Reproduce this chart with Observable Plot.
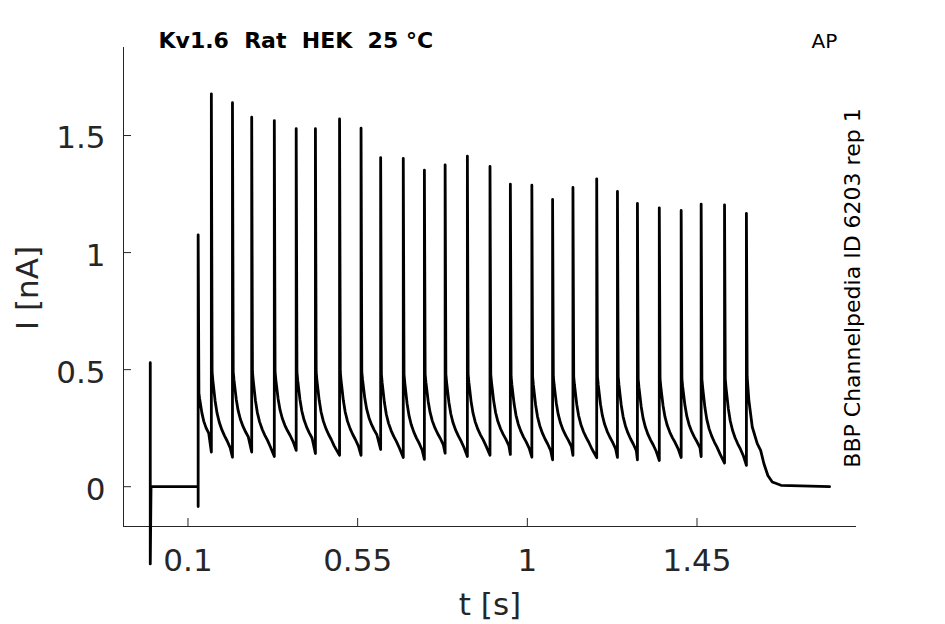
<!DOCTYPE html>
<html>
<head>
<meta charset="utf-8">
<script src="https://cdn.jsdelivr.net/npm/d3@7"></script>
<script src="https://cdn.jsdelivr.net/npm/@observablehq/plot@0.6"></script>
<style>
  html, body { margin: 0; padding: 0; background: white; }
</style>
</head>
<body>
<div id="chart"></div>
<script>
// ---- data ----
const titleText = "Kv1.6  Rat  HEK  25 °C";
const protocolText = "AP";
const sideText = "BBP Channelpedia ID 6203 rep 1";
const xLabel = "t [s]";
const yLabel = "I [nA]";

const xTicks = [0.1, 0.55, 1, 1.45];
const yTicks = [0, 0.5, 1, 1.5];
const xDomain = [-0.071, 1.873];
const yDomain = [-0.17, 1.876];

// start of the trace: capacitive artefact, baseline, step onset
const preT = [0.000, 0.000, 0.002, 0.127, 0.127];
const preI = [0.53, -0.33, 0.0, 0.0, -0.085];

// spike onsets (s), spike peaks (nA), current just before the next spike (nA)
const spikeT = [0.127, 0.162, 0.218, 0.269, 0.329, 0.387, 0.438, 0.502, 0.559, 0.611,
                0.671, 0.727, 0.782, 0.841, 0.901, 0.955, 1.012, 1.067, 1.121, 1.184,
                1.239, 1.292, 1.350, 1.408, 1.461, 1.523, 1.581];
const spikePeak = [1.076, 1.678, 1.640, 1.578, 1.564, 1.529, 1.529, 1.571, 1.531, 1.406,
                   1.402, 1.352, 1.375, 1.412, 1.368, 1.292, 1.288, 1.227, 1.278, 1.315,
                   1.261, 1.210, 1.191, 1.180, 1.207, 1.204, 1.167];
const troughI = [0.148, 0.126, 0.148, 0.129, 0.155, 0.142, 0.134, 0.134, 0.159, 0.125,
                 0.117, 0.143, 0.129, 0.134, 0.138, 0.126, 0.115, 0.134, 0.124, 0.125,
                 0.115, 0.112, 0.125, 0.129, 0.101, 0.091];
// current ~2 ms after each spike (start of the slow decay)
const shoulderI = [0.40, 0.49, 0.49, 0.49, 0.49, 0.49, 0.49, 0.49, 0.49, 0.48,
                   0.48, 0.48, 0.48, 0.48, 0.48, 0.47, 0.47, 0.47, 0.47, 0.47,
                   0.47, 0.46, 0.46, 0.46, 0.46, 0.46];
const decayMs = [2, 4, 6, 10, 15, 21, 28, 35, 42, 50];
const decayFrac = [1, 0.9, 0.82, 0.66, 0.52, 0.41, 0.32, 0.25, 0.19, 0.11];

// tail after the last spike
const tailT = [1.583, 1.5875, 1.5966, 1.6098, 1.6188, 1.6275, 1.6379, 1.6496, 1.6727, 1.8016];
const tailI = [0.47, 0.37, 0.255, 0.184, 0.155, 0.098, 0.048, 0.02, 0.006, 0.0];

// ---- assemble the trace ----
const trace = [];
preT.forEach((t, k) => trace.push({t, i: preI[k]}));
for (let k = 0; k < spikeT.length; k++) {
  trace.push({t: spikeT[k], i: spikePeak[k]});
  if (k < spikeT.length - 1) {
    const dur = (spikeT[k + 1] - spikeT[k]) * 1000;
    decayMs.forEach((ms, j) => {
      if (ms < dur - 2) {
        trace.push({t: spikeT[k] + ms / 1000, i: troughI[k] + decayFrac[j] * (shoulderI[k] - troughI[k])});
      }
    });
    trace.push({t: spikeT[k + 1], i: troughI[k]});
  }
}
tailT.forEach((t, k) => trace.push({t, i: tailI[k]}));

const axisColor = "#262626";
const fmt = d => String(d);

const chart = Plot.plot({
  width: 945,
  height: 624,
  marginLeft: 123,
  marginRight: 89,
  marginTop: 47,
  marginBottom: 98,
  style: {background: "white", fontFamily: "DejaVu Sans", overflow: "visible"},
  x: {domain: xDomain},
  y: {domain: yDomain},
  marks: [
    // axis lines
    Plot.ruleX([xDomain[0]], {x: d => d, stroke: axisColor, strokeWidth: 1}),
    Plot.ruleY([yDomain[0]], {y: d => d, stroke: axisColor, strokeWidth: 1}),
    // inward ticks
    Plot.ruleX(xTicks, {x: d => d, y1: yDomain[0], y2: yDomain[0], insetTop: -8, insetBottom: 0, stroke: axisColor}),
    Plot.ruleY(yTicks, {y: d => d, x1: xDomain[0], x2: xDomain[0], insetRight: -8, insetLeft: 0, stroke: axisColor}),
    // tick labels
    Plot.axisX({ticks: xTicks, tickFormat: fmt, tickSize: 0, tickPadding: 22, fontSize: 31, color: axisColor, label: null}),
    Plot.axisY({ticks: yTicks, tickFormat: fmt, tickSize: 0, tickPadding: 18, fontSize: 31, dy: 3, color: axisColor, label: null}),
    // the trace
    Plot.line(trace, {x: "t", y: "i", stroke: "black", strokeWidth: 2.8}),
    // texts
    Plot.text([xLabel], {text: d => d, frameAnchor: "bottom", dy: 88, textAnchor: "middle", fontSize: 31, fill: axisColor}),
    Plot.text([yLabel], {text: d => d, frameAnchor: "left", dx: -95, dy: 1, rotate: -90, textAnchor: "middle", fontSize: 31, fill: axisColor}),
    Plot.text([titleText], {text: d => d, frameAnchor: "top-left", dx: 35, lineAnchor: "bottom", textAnchor: "start", fontSize: 22, fontWeight: "bold", fill: "black"}),
    Plot.text([protocolText], {text: d => d, frameAnchor: "top-right", dx: -45, lineAnchor: "bottom", textAnchor: "start", fontSize: 20, fill: "black"}),
    Plot.text([sideText], {text: d => d, frameAnchor: "right", dx: -4, dy: 1, rotate: -90, textAnchor: "middle", fontSize: 22, fill: "black"})
  ]
});
document.getElementById("chart").appendChild(chart);
</script>
</body>
</html>
